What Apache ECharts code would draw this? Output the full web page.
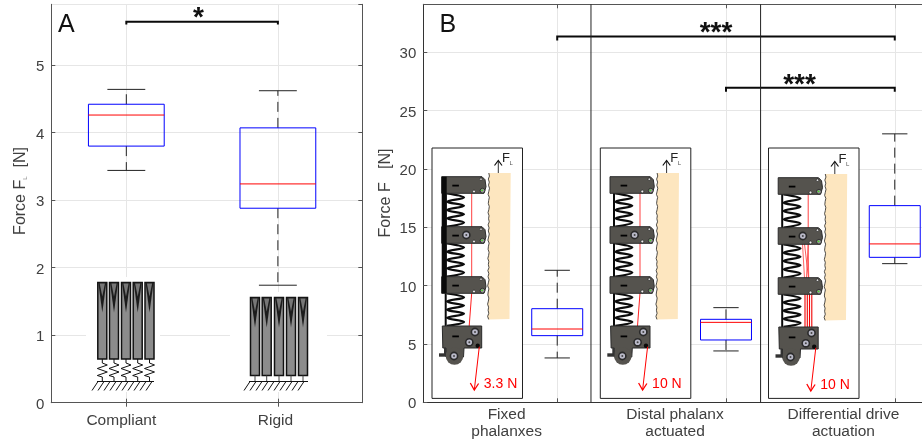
<!DOCTYPE html>
<html><head><meta charset="utf-8">
<style>html,body{margin:0;padding:0;background:#fff}#c{width:922px;height:443px}</style>
<script src="https://cdn.jsdelivr.net/npm/echarts@6/dist/echarts.min.js"></script>
</head><body><div id="c"></div>
<script>
// [x, low whisker, q1, median, q3, high whisker]
const boxesA = [[1, 3.44, 3.80, 4.26, 4.42, 4.64], [2, 1.74, 2.88, 3.24, 4.07, 4.62]];
const boxesB = [[1, 3.8, 5.71, 6.28, 8.02, 11.31], [2, 4.4, 5.34, 6.85, 7.11, 8.11], [3, 11.88, 12.42, 13.57, 16.85, 23.0]];
const labelsA = ['Compliant', 'Rigid'];
const labelPosA = [0.967, 1.984];
const labelsB = ['Fixed\nphalanxes', 'Distal phalanx\nactuated', 'Differential drive\nactuation'];
const labelPosB = [0.7, 1.698, 2.696];
const bracketA = [[1, 5.6], [1, 5.64], [2, 5.64], [2, 5.6]];
const bracketB1 = [[1, 31.0], [1, 31.35], [3, 31.35], [3, 31.0]];
const bracketB2 = [[2, 26.6], [2, 26.95], [3, 26.95], [3, 26.6]];
const separatorsB = [1.2, 2.205];
const FONT = '"Liberation Sans", Arial, sans-serif', TXT = '#404040', AX = '#555';

function boxSeries(data, xi, yi, hw, cw) {
  return {
    type: 'custom', xAxisIndex: xi, yAxisIndex: yi, data, z: 5, silent: true,
    encode: { x: 0, y: [1, 2, 3, 4, 5] },
    renderItem(p, api) {
      const x = api.value(0), c = (a, b) => api.coord([a, b]);
      const [low, q1, med, q3, high] = [1, 2, 3, 4, 5].map(i => api.value(i));
      const seg = (a, b, col, dash) => ({ type: 'line',
        shape: { x1: a[0], y1: a[1], x2: b[0], y2: b[1] },
        style: { stroke: col, lineWidth: 1, lineDash: dash || null } });
      const tl = c(x - hw, q3), br = c(x + hw, q1);
      return { type: 'group', children: [
        seg(c(x, q3), c(x, high), '#222', [10, 6]),
        seg(c(x, q1), c(x, low), '#222', [10, 6]),
        seg(c(x - cw, high), c(x + cw, high), '#222'),
        seg(c(x - cw, low), c(x + cw, low), '#222'),
        { type: 'rect', shape: { x: tl[0], y: tl[1], width: br[0] - tl[0], height: br[1] - tl[1] },
          style: { fill: 'none', stroke: '#0000ff', lineWidth: 1 } },
        seg(c(x - hw, med), c(x + hw, med), '#ff0000')
      ] };
    }
  };
}
function lineSeries(data, xi, yi, col, w) {
  return { type: 'line', xAxisIndex: xi, yAxisIndex: yi, data, symbol: 'none', z: 6, silent: true,
    animation: false, lineStyle: { color: col, width: w, cap: 'butt', join: 'miter' } };
}
const tickStyle = { inside: true, length: 4, lineStyle: { color: AX } };
const gridLine = { show: true, lineStyle: { color: '#e6e6e6', width: 1 } };

// ---------- decorative insets (pictures, not data) ----------
const G = [];
const add = o => (o.z = o.z || 50, G.push(o));
const rect = (x, y, w, h, fill, stroke, lw) => add({ type: 'rect', shape: { x, y, width: w, height: h }, style: { fill, stroke: stroke || null, lineWidth: lw || 0 } });
const poly = (pts, fill, stroke, lw) => add({ type: 'polygon', shape: { points: pts }, style: { fill, stroke: stroke || null, lineWidth: lw || 0 } });
const pl = (pts, stroke, lw, smooth) => add({ type: 'polyline', shape: { points: pts, smooth: smooth || 0 }, style: { fill: null, stroke, lineWidth: lw } });
const circ = (cx, cy, r, fill, stroke, lw) => add({ type: 'circle', shape: { cx, cy, r }, style: { fill, stroke: stroke || null, lineWidth: lw || 0 } });
const text = (x, y, t, size, fill) => add({ type: 'text', x, y, style: { text: t, font: size + 'px ' + FONT, fill, textAlign: 'left', textVerticalAlign: 'middle' } });

function finger(cx, top, bot) {
  rect(cx - 4.5, top, 9, bot - top, '#8c8c8c', '#111', 1.5);
  poly([[cx - 4, top], [cx + 4, top], [cx, top + 30]], '#1c1c1c');
  poly([[cx - 2.6, top + 1], [cx + 2.6, top + 1], [cx, top + 14]], '#777');
}
function ground(x0, x1, y) {
  pl([[x0, y], [x1, y]], '#111', 1);
  for (let x = x0 + 1; x <= x1 + 1; x += 6) pl([[x, y], [x - 6, y + 9]], '#111', 1);
}
// panel A
rect(86, 277, 74, 115, '#fff');
rect(230, 292, 97, 100, '#fff');
[102.3, 114, 126, 137.7, 149.5].forEach(cx => {
  finger(cx, 282.5, 359);
  pl([[cx, 359], [cx, 363], [cx + 5, 365], [cx - 5, 368.5], [cx + 5, 372], [cx - 5, 375.5], [cx, 377], [cx, 381]], '#111', 1);
});
ground(97, 154, 381.5);
[255, 266.7, 279, 291, 303].forEach(cx => {
  finger(cx, 297.5, 375.5);
  pl([[cx, 375.5], [cx, 381]], '#444', 1);
});
ground(249, 308, 381.5);

const WAVE = [0, 0.6, -0.4, 0.5, -0.2, 0.7, 0.1, -0.5, 0.6, 0, -0.3, 0.6, 0.2, -0.5, 0.4];
function spring(X, y0, y1) {
  const pts = []; const n = 8;
  for (let i = 0; i <= n; i++) pts.push([X + (i % 2 ? 32 : 15), y0 + (y1 - y0) * i / n]);
  pl(pts, '#0c0c0c', 2.3, 0.35);
}
function phalanx(X, y, pulley) {
  poly([[X + 9.7, y], [X + 50, y], [X + 53, y + 3], [X + 54, y + 10], [X + 52, y + 16.6], [X + 9.7, y + 16.6]], '#55534e', '#2a2a2a', 1);
  rect(X + 20.3, y + 8, 6.6, 1.8, '#000');
  circ(X + 49, y + 2.5, 1.3, '#ddd', '#111', 0.6);
  circ(X + 42, y + 14.8, 1.4, '#eee', '#111', 0.6);
  circ(X + 50.5, y + 14, 2.4, '#999', '#222', 0.8);
  circ(X + 50, y + 13.6, 0.9, '#44dd22');
  if (pulley) { circ(X + 34.3, y + 8.3, 3.6, '#b9b9c8', '#2a2a2a', 1.6); circ(X + 34.3, y + 8.3, 1, '#444'); }
}
function inset(X, Y0, dy, force, mode) {
  const Y = Y0 + dy;
  rect(X, Y0, 90.5, 250.4, '#fff', '#222', 1);
  // beige block with a rough left edge
  const edge = []; for (let i = 0; i <= 48; i++) edge.push([X + 56.8 + WAVE[i % WAVE.length] * 1.1 - i * 0.015, Y + 25 + i * 3.05]);
  poly([[X + 78.7, Y + 25], [X + 77.5, Y + 171]].concat(edge.slice().reverse()), '#fde6bf');
  pl(edge, '#222', 0.8);
  // load arrow and label
  pl([[X + 66.3, Y + 25], [X + 66.3, Y + 13]], '#333', 1);
  pl([[X + 62.5, Y + 17.5], [X + 66.3, Y + 12.5], [X + 70, Y + 17.5]], '#111', 1.2);
  text(X + 70, Y + 10.5, 'F', 13, '#222');
  text(X + 77.5, Y + 15, 'L', 6, '#555');
  // frame bar
  rect(X + 12.7, Y + 45, 2, 134, '#0a0a0a');
  spring(X, Y + 45.3, Y + 78.7); spring(X, Y + 95.3, Y + 128.7); spring(X, Y + 145.3, Y + 178);
  // tendons
  pl([[X + 39.7, Y + 45], [X + 39.7, Y + 79]], '#ff4040', 1);
  if (mode === 'diff') {
    pl([[X + 34, Y + 95], [X + 36, Y + 129]], '#ff4040', 0.8);
    pl([[X + 36, Y + 95], [X + 40, Y + 129]], '#ff3030', 0.8);
    pl([[X + 39.7, Y + 95], [X + 38, Y + 129]], '#ff3030', 0.8);
    pl([[X + 39.7, Y + 95], [X + 40.2, Y + 129]], '#ff3030', 0.8);
    [36.5, 38.8, 41, 43.3].forEach(d => pl([[X + d, Y + 145], [X + d, Y + 178]], '#f00000', 1.1));
  } else {
    pl([[X + 39.7, Y + 95], [X + 39.7, Y + 129]], '#ff4040', 1);
    pl([[X + 39.7, Y + 145], [X + 37.2, Y + 178]], '#ff2020', 1);
  }
  phalanx(X, Y + 28.7, false); phalanx(X, Y + 78.7, true); phalanx(X, Y + 128.7, false);
  if (mode === 'fixed') { rect(X + 9.7, Y + 28.7, 5, 116.6, '#0a0a0a'); }
  // base block
  poly([[X + 10.3, Y + 178], [X + 49.7, Y + 178], [X + 49.7, Y + 200], [X + 32, Y + 200], [X + 31.5, Y + 209], [X + 14, Y + 209], [X + 14, Y + 200], [X + 10.8, Y + 200]], '#55534e', '#2a2a2a', 1);
  circ(X + 22.5, Y + 208, 8.8, '#55534e');
  rect(X + 7, Y + 205.3, 7, 3.4, '#333');
  rect(X + 12, Y + 200, 2, 8, '#333');
  [[43, 184], [37.3, 194.3], [22, 208]].forEach(p => { circ(X + p[0], Y + p[1], 3.6, '#b9b9c8', '#2a2a2a', 1.6); circ(X + p[0], Y + p[1], 1, '#444'); });
  rect(X + 20.3, Y + 187.5, 6.6, 1.8, '#000');
  circ(X + 45.7, Y + 197.7, 2.2, '#0a0a0a');
  // pulling force
  pl([[X + 47.3, Y + 198.7], [X + 42.3, Y + 242]], '#ff0000', 1);
  pl([[X + 38.3, Y + 235], [X + 42.3, Y + 242], [X + 46.6, Y + 235.5]], '#ff0000', 1.3);
  text(X + 51.8, Y + 236, force, 14, '#ff0000');
}
inset(432, 148, 0, '3.3 N', 'fixed');
inset(600.3, 148, 0, '10 N', 'dist');
inset(768.5, 148, 1, '10 N', 'diff');

// panel letters, axis names, significance stars
text(58, 25, 'A', 25, '#111');
text(439.5, 25, 'B', 25, '#111');
add({ type: 'text', x: 20.5, y: 191, rotation: Math.PI / 2, style: { text: 'Force F{s|L}  [N]', font: '16px ' + FONT, fill: TXT, textAlign: 'center', textVerticalAlign: 'middle', rich: { s: { font: '6px ' + FONT, fill: '#777', verticalAlign: 'bottom' } } } });
add({ type: 'text', x: 385.5, y: 193, rotation: Math.PI / 2, style: { text: 'Force F   [N]', font: '16px ' + FONT, fill: TXT, textAlign: 'center', textVerticalAlign: 'middle' } });
const star = (x, y, t) => add({ type: 'text', x, y, style: { text: t, font: 'bold 28px ' + FONT, fill: '#111', textAlign: 'center', textVerticalAlign: 'middle' } });
star(198.5, 18, '*');
star(716, 33, '***');
star(799.5, 85, '***');

const yLabel = { margin: 7, showMaxLabel: false, formatter: v => '{a|' + v + '}',
  rich: { a: { color: TXT, fontSize: 15, fontFamily: FONT, padding: [4, 0, 0, 0] } } };
const option = {
  animation: false, backgroundColor: '#fff',
  textStyle: { fontFamily: FONT },
  grid: [
    { left: 51.3, top: 4.3, width: 311, height: 398.4, show: false, outerBoundsMode: 'none' },
    { left: 423.3, top: 4.3, width: 501, height: 398, show: false, outerBoundsMode: 'none' }
  ],
  xAxis: [
    { type: 'value', gridIndex: 0, min: 0.505, max: 2.557, axisLine: { show: true, lineStyle: { color: AX } },
      axisTick: Object.assign({ customValues: [1, 2] }, tickStyle), splitLine: gridLine,
      axisLabel: { customValues: labelPosA, formatter: v => labelsA[labelPosA.indexOf(v)], color: TXT, fontSize: 15.5, margin: 10, fontFamily: FONT } },
    { type: 'value', gridIndex: 0, position: 'top', min: 0.505, max: 2.557, axisLine: { show: true, lineStyle: { color: AX } },
      axisTick: Object.assign({ customValues: [1, 2] }, tickStyle), splitLine: { show: false }, axisLabel: { show: false } },
    { type: 'value', gridIndex: 1, min: 0.2065, max: 3.175, axisLine: { show: true, lineStyle: { color: '#333' } },
      axisTick: Object.assign({ customValues: [1, 2, 3] }, tickStyle), splitLine: gridLine,
      axisLabel: { customValues: labelPosB, formatter: v => labelsB[labelPosB.indexOf(v)], color: TXT, fontSize: 15.5, margin: 4, lineHeight: 17, fontFamily: FONT } },
    { type: 'value', gridIndex: 1, position: 'top', min: 0.2065, max: 3.175, axisLine: { show: true, lineStyle: { color: AX } },
      axisTick: Object.assign({ customValues: [1, 2, 3] }, tickStyle), splitLine: { show: false }, axisLabel: { show: false } }
  ],
  yAxis: [
    { type: 'value', gridIndex: 0, min: 0, max: 5.9, interval: 1, axisLine: { show: true, lineStyle: { color: AX } }, axisTick: tickStyle, splitLine: gridLine, axisLabel: yLabel },
    { type: 'value', gridIndex: 0, position: 'right', min: 0, max: 5.9, interval: 1, axisLine: { show: true, lineStyle: { color: AX } }, axisTick: tickStyle, splitLine: { show: false }, axisLabel: { show: false } },
    { type: 'value', gridIndex: 1, min: 0, max: 34.1, interval: 5, axisLine: { show: true, lineStyle: { color: '#333' } }, axisTick: tickStyle, splitLine: gridLine, axisLabel: yLabel }
  ],
  series: [
    boxSeries(boxesA, 0, 0, 0.25, 0.125),
    boxSeries(boxesB, 2, 2, 0.151, 0.075),
    lineSeries(bracketA, 0, 0, '#0a0a0a', 2),
    lineSeries(bracketB1, 2, 2, '#0a0a0a', 2),
    lineSeries(bracketB2, 2, 2, '#0a0a0a', 2),
    ...separatorsB.map(x => lineSeries([[x, 0], [x, 34.1]], 2, 2, '#222', 1))
  ],
  graphic: { elements: G }
};
echarts.init(document.getElementById('c'), null, { renderer: 'canvas' }).setOption(option);
</script></body></html>
